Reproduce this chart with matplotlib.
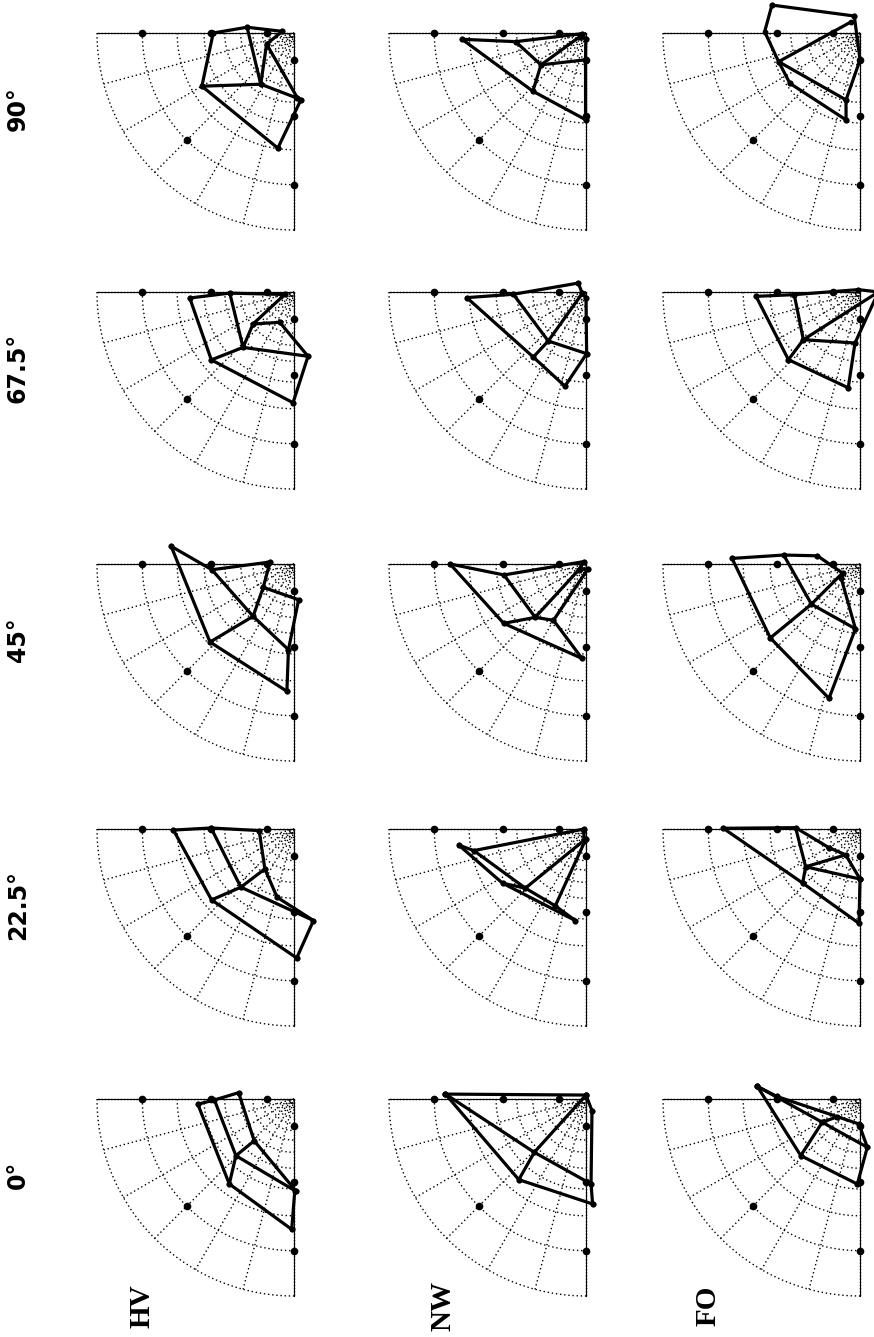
import numpy as np
import matplotlib
matplotlib.use('Agg')
import matplotlib.pyplot as plt

# headings
angles = ['0°', '22.5°', '45°', '67.5°', '90°']
conditions = ['HV', 'NW', 'FO']

# mesh nodes, 3x3 grid of (angle deg, radius 0..1) per panel
hv_0 = [[(3.1, 0.489), (0.7, 0.404), (-6.5, 0.283)],
        [(52.7, 0.542), (44.3, 0.412), (46.4, 0.293)],
        [(89, 0.662), (90.5, 0.465), (91, 0.465)]]
hv_22 = [[(0.5, 0.612), (-0.7, 0.421), (2.6, 0.177)],
         [(40.7, 0.552), (47.6, 0.40), (53.9, 0.251)],
         [(91.2, 0.655), (102, 0.475), (76.1, 0.357)]]
hv_45 = [[(-8.2, 0.63), (4, 0.418), (-4.8, 0.122)],
         [(42.9, 0.582), (52, 0.337), (37.2, 0.196)],
         [(86.8, 0.647), (86.3, 0.436), (97.3, 0.183)]]
hv_67 = [[(3.3, 0.53), (1, 0.326), (15, 0.049)],
         [(39.4, 0.543), (47.4, 0.382), (38, 0.264)],
         [(89.5, 0.562), (102.3, 0.334), (64.8, 0.17)]]
hv_90 = [[(0, 0.41), (-7, 0.24), (-8, 0.06)],
         [(30, 0.54), (57, 0.31), (22, 0.15)],
         [(82, 0.59), (96, 0.34), (93, 0.33)]]

nw_0 = [[(-2, 0.714), (-2, 0.714), (-90, 0.02)],
        [(50.2, 0.533), (45.9, 0.377), (-90, 0.02)],
        [(93.6, 0.534), (93.4, 0.432), (117, 0.067)]]
nw_22 = [[(7.2, 0.651), (10.9, 0.58), (0, 0.01)],
         [(33, 0.505), (44.3, 0.43), (79, 0.06)],
         [(83.4, 0.468), (68.2, 0.42), (90, 0.05)]]
nw_45 = [[(0, 0.69), (7.6, 0.42), (-45, 0.017)],
         [(35.8, 0.515), (46.4, 0.374), (39, 0.048)],
         [(87.6, 0.48), (60, 0.33), (108, 0.028)]]
nw_67 = [[(2.7, 0.606), (1.8, 0.369), (-49, 0.06)],
         [(51, 0.425), (52.4, 0.314), (20, 0.02)],
         [(77.4, 0.49), (90.6, 0.313), (90, 0.03)]]
nw_90 = [[(2.9, 0.63), (7, 0.36), (10, 0.02)],
         [(47.6, 0.40), (35.3, 0.28), (31, 0.036)],
         [(89.7, 0.44), (89, 0.136), (88, 0.03)]]

fo_0 = [[(-7, 0.525), (-7, 0.525), (-1.8, 0.423)],
        [(43.7, 0.416), (31.7, 0.225), (38, 0.146)],
        [(88.2, 0.432), (98.6, 0.248), (87.7, 0.127)]]
fo_22 = [[(-0.3, 0.694), (-1.2, 0.327), (31, 0.184)],
         [(43.3, 0.40), (34.8, 0.336), (61, 0.15)],
         [(89.4, 0.479), (90, 0.254), (90, 0.254)]]
fo_45 = [[(-2.5, 0.65), (-6.7, 0.39), (-10.9, 0.22)],
         [(39.5, 0.59), (39.6, 0.32), (27.5, 0.10)],
         [(77, 0.70), (86, 0.33), (37.5, 0.12)]]
fo_67 = [[(2.4, 0.528), (2.3, 0.334), (-54, 0.015)],
         [(43.4, 0.50), (40.1, 0.376), (180, 0.093)],
         [(83, 0.49), (84.4, 0.26), (180, 0.093)]]
# this one is not a clean 3x3 mesh, so polylines
fo_90_lines = [[(-17.6, 0.469), (-71.5, 0.091)],
               [(-17.6, 0.469), (-0.8, 0.484), (19.4, 0.438), (35.7, 0.438)],
               [(19.4, 0.438), (-53, 0.072)],
               [(19.4, 0.438), (78.2, 0.347)],
               [(35.7, 0.438), (80.9, 0.447)],
               [(-71.5, 0.091), (90, 0.137), (78.2, 0.347), (80.9, 0.447)]]

# grid of the log-polar plot
ring_r = 0.77 ** np.arange(0, 17)
spoke_deg = np.arange(0, 91, 15)
tick_r = [0.77, 0.42, 0.136]


def mesh_lines(grid):
    rows = [list(row) for row in grid]
    cols = [[grid[i][j] for i in range(3)] for j in range(3)]
    return rows + cols


panels = {
    ('HV', '0°'): mesh_lines(hv_0), ('HV', '22.5°'): mesh_lines(hv_22),
    ('HV', '45°'): mesh_lines(hv_45), ('HV', '67.5°'): mesh_lines(hv_67),
    ('HV', '90°'): mesh_lines(hv_90),
    ('NW', '0°'): mesh_lines(nw_0), ('NW', '22.5°'): mesh_lines(nw_22),
    ('NW', '45°'): mesh_lines(nw_45), ('NW', '67.5°'): mesh_lines(nw_67),
    ('NW', '90°'): mesh_lines(nw_90),
    ('FO', '0°'): mesh_lines(fo_0), ('FO', '22.5°'): mesh_lines(fo_22),
    ('FO', '45°'): mesh_lines(fo_45), ('FO', '67.5°'): mesh_lines(fo_67),
    ('FO', '90°'): fo_90_lines,
}

# layout (pixels of the 874x1337 page, figure is rotated)
W, H = 874, 1337
R = 197
col_cx = [294, 586, 860]
row_cy = [1099, 829, 564, 292, 33]  # for 0°, 22.5°, 45°, 67.5°, 90°
label_x = [142, 443, 708]

fig = plt.figure(figsize=(W / 100, H / 100), dpi=100)
fig.patch.set_facecolor('white')

dot = (0, (1, 2))
for ci, cond in enumerate(conditions):
    for ai, ang in enumerate(angles):
        cx, cy = col_cx[ci], row_cy[ai]
        ax = fig.add_axes([(cx - R) / W, 1 - (cy + R) / H, R / W, R / H],
                          projection='polar')
        ax.set_theta_zero_location('W')
        ax.set_theta_direction(1)
        ax.set_thetamin(0)
        ax.set_thetamax(90)
        ax.set_rlim(0, 1)
        ax.grid(False)
        ax.set_xticks([])
        ax.set_yticks([])
        for s in ax.spines.values():
            s.set_visible(False)
        ax.patch.set_visible(False)

        th = np.radians(np.linspace(0, 90, 150))
        for rr in ring_r:
            ax.plot(th, np.full_like(th, rr), color='k', lw=1.0, ls=dot,
                    clip_on=False)
        for d in spoke_deg:
            edge = d in (0, 90)
            ax.plot(np.radians([d, d]), [0, 1], color='k',
                    lw=1.0, ls=(0, (1, 1.3)) if edge else dot, clip_on=False)
        ax.plot(np.radians([0] * 3 + [90] * 3 + [45]), tick_r * 2 + [0.77],
                'o', color='k', ms=4.5, clip_on=False)

        for line in panels[(cond, ang)]:
            t = np.radians([p[0] for p in line])
            r = [p[1] for p in line]
            ax.plot(t, r, color='k', lw=2.3, marker='o', ms=3.2,
                    solid_joinstyle='round', solid_capstyle='round',
                    clip_on=False, zorder=5)

for ai, ang in enumerate(angles):
    fig.text(18 / W, 1 - (row_cy[ai] + 76) / H, ang, rotation=90,
             ha='center', va='center', fontsize=17, family='DejaVu Sans',
             fontweight='bold')

for ci, cond in enumerate(conditions):
    fig.text(label_x[ci] / W, 1 - 1306 / H, cond, rotation=90,
             ha='center', va='center', fontsize=21,
             family='Liberation Serif', fontweight='bold')

fig.savefig('out.png', dpi=100, facecolor='white')
